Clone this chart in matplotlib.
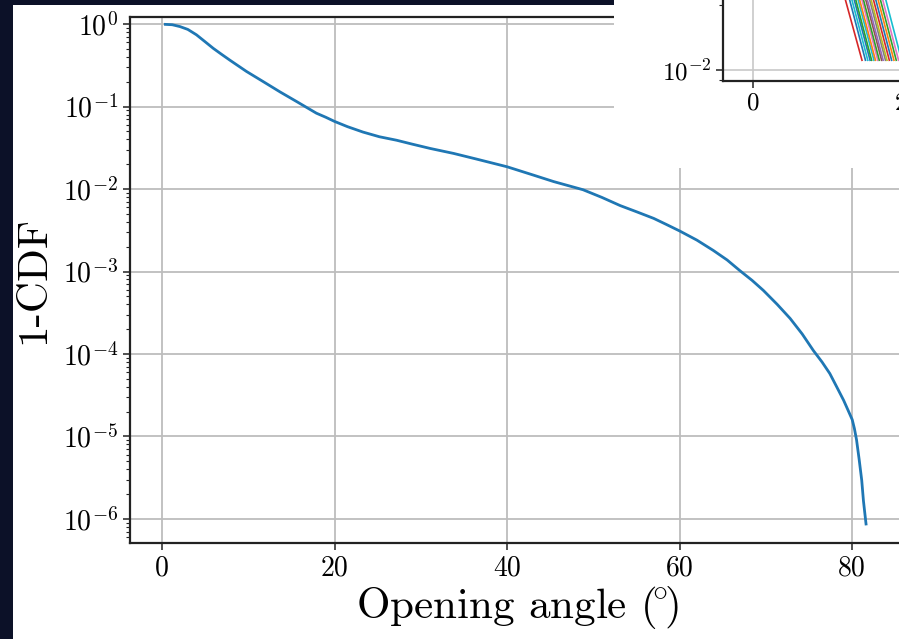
#! /usr/bin/env python

# 1-CDF of the opening angle, as it shows up on a slide: the main log plot,
# with the bottom corner of a second (bundle) plot pasted over the top right.

import matplotlib
matplotlib.use('Agg')
import matplotlib.pyplot as plt
from matplotlib.patches import Rectangle
from matplotlib.ticker import NullFormatter

# Computer-Modern look without LaTeX
plt.rcParams['font.family'] = ['cmr10', 'DejaVu Serif']
plt.rcParams['mathtext.fontset'] = 'cm'
plt.rcParams['axes.unicode_minus'] = False
plt.rcParams['axes.formatter.use_mathtext'] = True

# ----- data --------------------------------------------------------------------------
angle = [0.4, 1.2, 2.1, 3.0, 4.0, 5.0, 5.95, 6.9, 7.9, 9.8, 11.75, 13.7, 15.6, 17.9,
         19.0, 20.0, 21.5, 23.3, 25.2, 27.2, 29.0, 31.1, 33.8, 36.5, 40.0, 43.0,
         45.4, 48.8, 51.0, 53.1, 55.0, 57.0, 58.5, 60.0, 62.0, 63.9, 65.5, 67.0,
         68.4, 69.7, 71.3, 72.8, 74.2, 75.5, 76.5, 77.4, 78.2, 79.0, 79.5, 80.0,
         80.25, 80.5, 80.8, 81.1, 81.3, 81.45, 81.6]
one_minus_cdf = [0.99, 0.98, 0.93, 0.86, 0.74, 0.61, 0.507, 0.43, 0.363, 0.266, 0.20,
                 0.15, 0.115, 0.083, 0.074, 0.066, 0.057, 0.049, 0.043, 0.039, 0.035,
                 0.031, 0.027, 0.023, 0.0186, 0.0148, 0.0123, 0.0098, 0.0079, 0.0063,
                 0.0053, 0.0044, 0.0037, 0.0031, 0.0024, 0.0018, 0.00138, 0.00102,
                 7.8e-4, 5.9e-4, 4.0e-4, 2.7e-4, 1.75e-4, 1.1e-4, 8.0e-5, 5.8e-5,
                 4.0e-5, 2.75e-5, 2.1e-5, 1.6e-5, 1.25e-5, 9.1e-6, 5.3e-6, 2.95e-6,
                 1.66e-6, 1.2e-6, 8.7e-7]

xticks = [0, 20, 40, 60, 80]
ydecades = [0, -1, -2, -3, -4, -5, -6]

# inset: only the lower ends of the curve bundle are on screen
inset_levels = [0.0215, 0.0111]          # 1-CDF at top of window / where curves stop
inset_x_start = [11.95, 12.5, 12.8, 13.1, 13.3, 13.6, 13.8, 14.1, 14.3, 14.6, 14.8,
                 15.1, 15.3, 15.6, 15.9, 16.2, 16.5, 16.8, 17.2]
inset_x_stop = [14.15, 14.6, 14.9, 15.2, 15.4, 15.7, 15.9, 16.2, 16.4, 16.7, 16.9,
                17.2, 17.4, 17.7, 18.0, 18.3, 18.6, 18.9, 19.3]
inset_colors = ['tab:red', 'tab:blue', 'tab:cyan', 'tab:blue', 'tab:green', 'tab:cyan',
                'tab:orange', 'tab:pink', 'tab:green', 'tab:brown', 'tab:purple',
                'tab:gray', 'tab:olive', 'tab:red', 'tab:blue', 'tab:orange',
                'tab:green', 'tab:pink', 'tab:cyan']

navy = '#0c1128'
W, H = 899., 639.

fig = plt.figure(figsize=(8.99, 6.39), dpi=100, facecolor=navy)

# white slide area
fig.add_artist(Rectangle((13/W, 0), 1 - 13/W, 1 - 5/H, transform=fig.transFigure,
                         facecolor='white', edgecolor='none', zorder=-1))

# ----- main plot ----------------------------------------------------------------------
ax = fig.add_axes([130/W, 96/H, 774/W, 526/H], zorder=0)
ax.set_yscale('log')
ax.set_xlim(-3.7, 86.0)
ax.set_ylim(10**-6.291, 10**0.085)

ax.plot(angle, one_minus_cdf, color='#1f77b4', linewidth=2.0)

ax.set_xticks(xticks)
ax.set_xticklabels([str(t) for t in xticks])
ax.set_yticks([10.**e for e in ydecades])
ax.set_yticklabels([r'$10^{%d}$' % e for e in ydecades])
ax.yaxis.set_minor_formatter(NullFormatter())
ax.tick_params(axis='both', which='major', labelsize=20, length=5, width=1.1,
               color='#222222')
ax.tick_params(axis='y', which='minor', length=3, width=0.8, color='#222222')
ax.grid(True, which='major', color='#bdbdbd', linewidth=1.3)
ax.set_axisbelow(True)
for s in ax.spines.values():
    s.set_color('#222222')
    s.set_linewidth(1.6)

ax.set_xlabel(r'Opening angle $(\!^{\circ}\!)$', fontsize=31, labelpad=2)
ax.set_ylabel('1-CDF', fontsize=31, labelpad=8)

# ----- pasted corner of the second plot -----------------------------------------------
fig.add_artist(Rectangle((614/W, 1 - 168/H), 1 - 614/W, 168/H, transform=fig.transFigure,
                         facecolor='white', edgecolor='none', zorder=1))

D = 215.   # px per decade in the inset
ins = fig.add_axes([723/W, 1 - 81/H, 700/W, 141/H], zorder=2)
ins.set_yscale('log')
ins.set_xlim(-3.9, -3.9 + 700/7.7)
ins.set_ylim(10**(-2 - 11/D), 10**(-2 + 130/D))

for xs, xe, c in zip(inset_x_start, inset_x_stop, inset_colors):
    ins.plot([xs, xe], inset_levels, color=c, linewidth=1.2)

ins.set_xticks([0, 20])
ins.set_xticklabels(['0', '20'])
ins.set_yticks([0.01])
ins.set_yticklabels([r'$10^{-2}$'])
ins.yaxis.set_minor_formatter(NullFormatter())
ins.tick_params(axis='both', which='major', labelsize=18, length=5, width=1.1,
                color='#222222')
ins.tick_params(axis='y', which='minor', length=3, width=0.8, color='#222222')
ins.grid(True, which='major', color='#c8c8c8', linewidth=1.2)
ins.set_axisbelow(True)
for s in ins.spines.values():
    s.set_color('#222222')
    s.set_linewidth(1.6)

fig.savefig('out.png', dpi=100, facecolor=navy)
